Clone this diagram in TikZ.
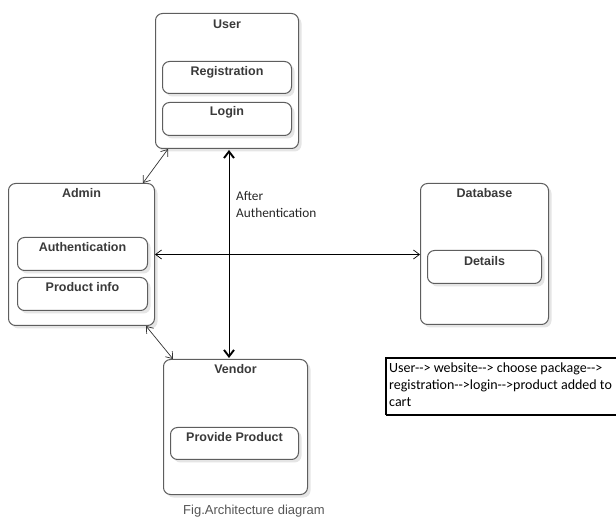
\documentclass[tikz,border=0pt]{standalone}
\usepackage{fontspec}
\setmainfont{Liberation Sans}
\newfontfamily\calfont{Carlito}
\usetikzlibrary{arrows.meta,shadows}
\definecolor{bgray}{HTML}{5E5E5E}
\definecolor{tgray}{HTML}{3A3A3A}
\definecolor{capgray}{HTML}{555555}
\begin{document}
\begin{tikzpicture}[x=1pt,y=-1pt,
  obox/.style={draw=bgray, line width=1pt, rounded corners=7pt, fill=white, inner sep=0pt,
    anchor=north west, drop shadow={fill=black!10, shadow xshift=3pt, shadow yshift=-3pt, opacity=1}},
  ttl/.style={font=\bfseries\fontsize{12.5}{14}\selectfont, text=tgray, inner sep=0pt},
  thinarrow/.style={line width=0.7pt, {Straight Barb[length=6pt,width=9pt]}-{Straight Barb[length=6pt,width=9pt]}},
  boldarrow/.style={line width=0.8pt, {Straight Barb[line width=1.9pt,length=6.5pt,width=10pt]}-{Straight Barb[line width=1.9pt,length=6.5pt,width=10pt]}},
  notetext/.style={font=\calfont\fontsize{14}{17}\selectfont, inner sep=0pt, anchor=base west},
  lbltext/.style={font=\calfont\fontsize{13.3}{17}\selectfont, text=black!85, inner sep=0pt, anchor=base west}
]
\useasboundingbox (0,0) rectangle (616,518);

% outer boxes
\node[obox, minimum width=143pt, minimum height=135pt] (user) at (155,13) {};
\node[obox, minimum width=146pt, minimum height=142pt] (admin) at (8,183) {};
\node[obox, minimum width=128pt, minimum height=141pt] (db) at (420,183) {};
\node[obox, minimum width=144pt, minimum height=135pt] (vendor) at (163,359) {};

% titles
\node[ttl] (usert) at ([yshift=-11pt]user.north) {User};
\node[ttl] (admint) at ([yshift=-10pt]admin.north) {Admin};
\node[ttl] (dbt) at ([yshift=-10pt]db.north) {Database};
\node[ttl] (vendort) at ([yshift=-10pt]vendor.north) {Vendor};

% inner boxes
\node[obox, minimum width=129pt, minimum height=32pt] (reg) at (162,61) {};
\node[obox, minimum width=129pt, minimum height=33pt] (login) at (162,102) {};
\node[obox, minimum width=130pt, minimum height=33pt] (auth) at (17,237) {};
\node[obox, minimum width=130pt, minimum height=33pt] (prod) at (17,277) {};
\node[obox, minimum width=114pt, minimum height=33pt] (det) at (427,250) {};
\node[obox, minimum width=128pt, minimum height=32pt] (prov) at (170,427) {};

\node[ttl] (regt) at ([yshift=-11pt]reg.north) {Registration};
\node[ttl] (logint) at ([yshift=-10.5pt]login.north) {Login};
\node[ttl] (autht) at ([yshift=-10.5pt]auth.north) {Authentication};
\node[ttl] (prodt) at ([yshift=-10.5pt]prod.north) {Product info};
\node[ttl] (dett) at ([yshift=-11pt]det.north) {Details};
\node[ttl] (provt) at ([yshift=-10.5pt]prov.north) {Provide Product};

% connectors
\coordinate (vx) at (229,0);
\draw[boldarrow] ([yshift=-1pt]user.south -| vx) -- ([yshift=1pt]vendor.north -| vx);
\draw[thinarrow, black] (admin.east) -- (admin.east -| db.west);
\draw[thinarrow, black!80] ([xshift=13pt]user.south west) -- ([xshift=-12pt]admin.north east);
\draw[thinarrow, black!80] ([xshift=-9pt]admin.south east) -- ([xshift=10pt]vendor.north west);

% label
\node[lbltext] (aft1) at (236,201) {After};
\node[lbltext] (aft2) at (236,218) {Authentication};

% note
\draw[line width=2pt, black] (386,415) -- (386,358) -- (630,358);
\draw[line width=2pt, black] (386,415) -- (630,415);
\node[notetext] (note1) at (389,373) {User--> website--> choose package-->};
\node[notetext] (note2) at (389,390) {registration-->login-->product added to};
\node[notetext] (note3) at (389,407) {cart};

% caption
\node[font=\fontsize{13}{15}\selectfont, text=capgray, inner sep=0pt] (cap) at (254,511) {Fig.Architecture diagram};
\end{tikzpicture}
\end{document}
